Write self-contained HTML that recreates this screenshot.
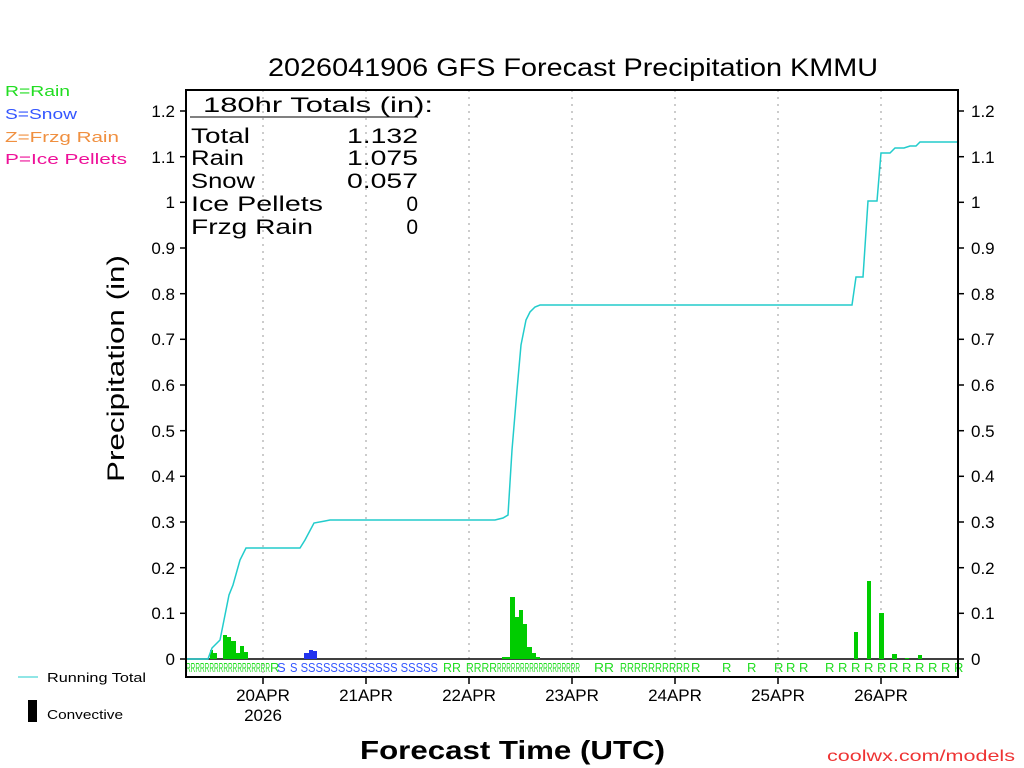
<!DOCTYPE html>
<html><head><meta charset="utf-8"><style>
html,body{margin:0;padding:0;background:#fff;}
svg{display:block;font-family:"Liberation Sans",sans-serif;}
</style></head><body>
<svg width="1024" height="768" viewBox="0 0 1024 768" xmlns="http://www.w3.org/2000/svg">
<rect width="1024" height="768" fill="#fff"/>
<text x="268" y="76" font-size="25" fill="#000" textLength="610" lengthAdjust="spacingAndGlyphs">2026041906 GFS Forecast Precipitation KMMU</text>
<g font-size="15">
<text x="5" y="96" fill="#22dd22" textLength="65" lengthAdjust="spacingAndGlyphs">R=Rain</text>
<text x="5" y="119" fill="#3355ff" textLength="72" lengthAdjust="spacingAndGlyphs">S=Snow</text>
<text x="5" y="142" fill="#f09040" textLength="114" lengthAdjust="spacingAndGlyphs">Z=Frzg Rain</text>
<text x="5" y="164" fill="#ee1199" textLength="122" lengthAdjust="spacingAndGlyphs">P=Ice Pellets</text>
</g>
<g stroke="#999" stroke-width="1" stroke-dasharray="2,5">
<line x1="263" y1="90" x2="263" y2="677"/><line x1="366" y1="90" x2="366" y2="677"/>
<line x1="469" y1="90" x2="469" y2="677"/><line x1="572" y1="90" x2="572" y2="677"/>
<line x1="675" y1="90" x2="675" y2="677"/><line x1="778" y1="90" x2="778" y2="677"/>
<line x1="881" y1="90" x2="881" y2="677"/>
</g>
<line x1="186" y1="659" x2="958" y2="659" stroke="#000" stroke-width="1.5"/>
<g fill="#00cc00">
<rect x="210" y="650" width="3" height="9"/><rect x="213" y="653" width="4" height="6"/>
<rect x="223" y="635" width="4" height="24"/><rect x="227" y="637" width="4" height="22"/>
<rect x="231" y="641" width="5" height="18"/><rect x="236" y="653" width="4" height="6"/>
<rect x="240" y="646" width="4" height="13"/><rect x="244" y="652" width="4" height="7"/>
<rect x="502" y="657" width="8" height="2"/>
<rect x="510" y="597" width="5" height="62"/><rect x="515" y="617" width="4" height="42"/>
<rect x="519" y="610" width="4" height="49"/><rect x="523" y="624" width="4" height="35"/>
<rect x="527" y="647" width="5" height="12"/><rect x="532" y="653" width="4" height="6"/>
<rect x="536" y="657" width="4" height="2"/>
<rect x="854" y="632" width="4" height="27"/><rect x="867" y="581" width="4" height="78"/>
<rect x="879" y="613" width="5" height="46"/><rect x="892" y="654" width="5" height="5"/>
<rect x="905" y="658" width="4" height="1"/><rect x="918" y="655" width="4" height="4"/>
</g>
<g fill="#2233ee">
<rect x="304" y="653" width="5" height="6"/><rect x="309" y="650" width="4" height="9"/>
<rect x="313" y="651" width="4" height="8"/>
</g>
<polyline fill="none" stroke="#22cccc" stroke-width="1.5" points="186,659 208,659 212,648 220,640 224,620 229,595 233,585 240,560 246,548 300,548 305,540 314,523 325,521 330,520 495,520 503,518 508,515 512,450 517,390 521,345 526,320 530,312 535,307 540,305 852,305 856,277 863,277 868,201 877,201 881,153 890,153 895,148 904,148 910,146 916,146 920,142 958,142"/>
<g font-size="13" fill="#22dd22">
<text x="186" y="672" textLength="84" lengthAdjust="spacingAndGlyphs">RRRRRRRRRRRRRRRRRR</text>
<text x="270" y="672">R</text>
<text x="443" y="672" textLength="18" lengthAdjust="spacingAndGlyphs">RR</text>
<text x="466" y="672" textLength="31" lengthAdjust="spacingAndGlyphs">RRRR</text>
<text x="497" y="672" textLength="83" lengthAdjust="spacingAndGlyphs">RRRRRRRRRRRRRRRRRR</text>
<text x="594" y="672" textLength="20" lengthAdjust="spacingAndGlyphs">RR</text>
<text x="620" y="672" textLength="70" lengthAdjust="spacingAndGlyphs">RRRRRRRRRR</text>
<text x="691" y="672">R</text><text x="722" y="672">R</text><text x="747" y="672">R</text>
<text x="774" y="672">R</text><text x="786" y="672">R</text><text x="799" y="672">R</text>
<text x="825" y="672">R</text><text x="838" y="672">R</text><text x="851" y="672">R</text>
<text x="864" y="672">R</text><text x="877" y="672">R</text><text x="889" y="672">R</text>
<text x="902" y="672">R</text><text x="915" y="672">R</text><text x="928" y="672">R</text>
<text x="941" y="672">R</text><text x="954" y="672">R</text>
</g>
<g font-size="13" fill="#3355ff">
<text x="277" y="672">S</text>
<text x="290" y="672" textLength="148" lengthAdjust="spacingAndGlyphs">S SSSSSSSSSSSSS  SSSSS</text>
</g>
<rect x="186" y="90" width="772" height="587" fill="none" stroke="#000" stroke-width="2"/>
<g stroke="#000" stroke-width="1.5">
<line x1="180" y1="659" x2="186" y2="659"/><line x1="180" y1="613.3" x2="186" y2="613.3"/>
<line x1="180" y1="567.7" x2="186" y2="567.7"/><line x1="180" y1="522" x2="186" y2="522"/>
<line x1="180" y1="476.3" x2="186" y2="476.3"/><line x1="180" y1="430.7" x2="186" y2="430.7"/>
<line x1="180" y1="385" x2="186" y2="385"/><line x1="180" y1="339.3" x2="186" y2="339.3"/>
<line x1="180" y1="293.7" x2="186" y2="293.7"/><line x1="180" y1="248" x2="186" y2="248"/>
<line x1="180" y1="202.3" x2="186" y2="202.3"/><line x1="180" y1="156.7" x2="186" y2="156.7"/>
<line x1="180" y1="111" x2="186" y2="111"/>
<line x1="958" y1="659" x2="964" y2="659"/><line x1="958" y1="613.3" x2="964" y2="613.3"/>
<line x1="958" y1="567.7" x2="964" y2="567.7"/><line x1="958" y1="522" x2="964" y2="522"/>
<line x1="958" y1="476.3" x2="964" y2="476.3"/><line x1="958" y1="430.7" x2="964" y2="430.7"/>
<line x1="958" y1="385" x2="964" y2="385"/><line x1="958" y1="339.3" x2="964" y2="339.3"/>
<line x1="958" y1="293.7" x2="964" y2="293.7"/><line x1="958" y1="248" x2="964" y2="248"/>
<line x1="958" y1="202.3" x2="964" y2="202.3"/><line x1="958" y1="156.7" x2="964" y2="156.7"/>
<line x1="958" y1="111" x2="964" y2="111"/>
<line x1="263" y1="677" x2="263" y2="684"/><line x1="366" y1="677" x2="366" y2="684"/>
<line x1="469" y1="677" x2="469" y2="684"/><line x1="572" y1="677" x2="572" y2="684"/>
<line x1="675" y1="677" x2="675" y2="684"/><line x1="778" y1="677" x2="778" y2="684"/>
<line x1="881" y1="677" x2="881" y2="684"/>
</g>
<g font-size="17" fill="#000" text-anchor="end">
<text x="175" y="665">0</text><text x="175" y="619">0.1</text><text x="175" y="574">0.2</text>
<text x="175" y="528">0.3</text><text x="175" y="482">0.4</text><text x="175" y="437">0.5</text>
<text x="175" y="391">0.6</text><text x="175" y="345">0.7</text><text x="175" y="300">0.8</text>
<text x="175" y="254">0.9</text><text x="175" y="208">1</text><text x="175" y="163">1.1</text>
<text x="175" y="117">1.2</text>
</g>
<g font-size="17" fill="#000">
<text x="971" y="665">0</text><text x="971" y="619">0.1</text><text x="971" y="574">0.2</text>
<text x="971" y="528">0.3</text><text x="971" y="482">0.4</text><text x="971" y="437">0.5</text>
<text x="971" y="391">0.6</text><text x="971" y="345">0.7</text><text x="971" y="300">0.8</text>
<text x="971" y="254">0.9</text><text x="971" y="208">1</text><text x="971" y="163">1.1</text>
<text x="971" y="117">1.2</text>
</g>
<g font-size="17" fill="#000" text-anchor="middle">
<text x="263" y="701">20APR</text><text x="263" y="721">2026</text>
<text x="366" y="701">21APR</text><text x="469" y="701">22APR</text>
<text x="572" y="701">23APR</text><text x="675" y="701">24APR</text>
<text x="778" y="701">25APR</text><text x="881" y="701">26APR</text>
</g>
<text transform="translate(124,482) rotate(-90)" font-size="24" textLength="227" lengthAdjust="spacingAndGlyphs">Precipitation (in)</text>
<text x="360" y="759" font-size="26" font-weight="bold" textLength="305" lengthAdjust="spacingAndGlyphs">Forecast Time (UTC)</text>
<text x="827" y="761" font-size="16" fill="#ee3333" textLength="188" lengthAdjust="spacingAndGlyphs">coolwx.com/models</text>
<g font-size="21" fill="#000">
<text x="203" y="112" textLength="230" lengthAdjust="spacingAndGlyphs">180hr Totals (in):</text>
<text x="191" y="143" textLength="59" lengthAdjust="spacingAndGlyphs">Total</text>
<text x="191" y="165" textLength="53" lengthAdjust="spacingAndGlyphs">Rain</text>
<text x="191" y="188" textLength="64" lengthAdjust="spacingAndGlyphs">Snow</text>
<text x="191" y="211" textLength="132" lengthAdjust="spacingAndGlyphs">Ice Pellets</text>
<text x="191" y="234" textLength="122" lengthAdjust="spacingAndGlyphs">Frzg Rain</text>
<text x="347" y="143" textLength="71" lengthAdjust="spacingAndGlyphs">1.132</text>
<text x="347" y="165" textLength="71" lengthAdjust="spacingAndGlyphs">1.075</text>
<text x="347" y="188" textLength="71" lengthAdjust="spacingAndGlyphs">0.057</text>
<text x="418" y="211" text-anchor="end">0</text><text x="418" y="234" text-anchor="end">0</text>
</g>
<line x1="190" y1="117" x2="418" y2="117" stroke="#000" stroke-width="1"/>
<line x1="18" y1="677" x2="38" y2="677" stroke="#22cccc" stroke-width="1"/>
<text x="47" y="682" font-size="13" textLength="99" lengthAdjust="spacingAndGlyphs">Running Total</text>
<rect x="28" y="700" width="9" height="22" fill="#000"/>
<text x="47" y="719" font-size="13" textLength="76" lengthAdjust="spacingAndGlyphs">Convective</text>
</svg>
</body></html>
